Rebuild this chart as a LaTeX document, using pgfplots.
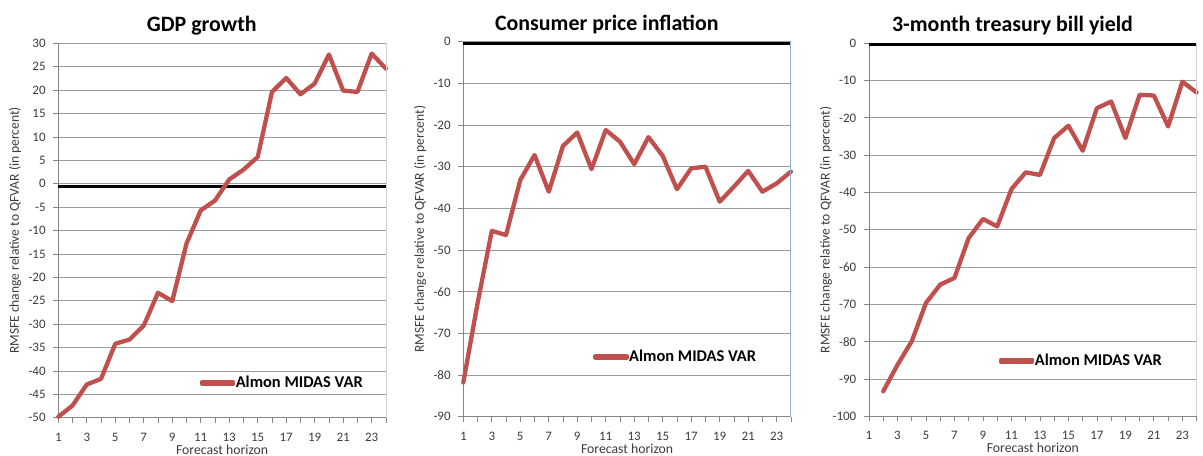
\documentclass[border=0pt]{standalone}
\usepackage{fontspec}
\setmainfont{Carlito}
\usepackage{pgfplots}
\pgfplotsset{compat=1.18}
\definecolor{redline}{RGB}{192,80,77}
\definecolor{gridc}{RGB}{155,155,155}
\definecolor{axc}{RGB}{134,134,134}
\definecolor{edgegray}{RGB}{210,210,210}
\definecolor{edgeblue}{RGB}{149,179,215}
\definecolor{tickc}{RGB}{60,60,60}

\pgfplotsset{
  panel/.style={
    scale only axis, width=327.6bp,
    anchor=south west,
    xmin=1, xmax=24,
    xtick={1,3,...,23}, minor xtick={2,4,...,24},
    axis x line*=bottom, axis y line*=left,
    axis line style={axc, line width=0.8bp},
    tick align=outside,
    major tick length=5bp, minor tick length=5bp,
    every tick/.style={axc, line width=0.8bp},
    ymajorgrids, grid style={gridc, line width=0.8bp},
    tick label style={font=\fontsize{13}{15}\selectfont, color=tickc, inner sep=0pt},
    xticklabel style={anchor=base, yshift=-18.3bp},
    yticklabel style={anchor=east, xshift=-7.5bp},
    /pgf/number format/assume math mode=true,
    clip=false,
    xlabel={Forecast horizon},
    ylabel={RMSFE change relative to QFVAR (in percent)},
    every axis x label/.style={at={(axis description cs:0.5,0)}, anchor=base, yshift=-36.3bp, font=\fontsize{13.8}{16}\selectfont, color=tickc, inner sep=0pt},
    every axis y label/.style={at={(axis description cs:-0.1321,0.5)}, anchor=center, rotate=90, font=\fontsize{13.6}{16}\selectfont, color=tickc, inner sep=0pt},
    every axis title/.style={font=\fontsize{22}{26}\selectfont\bfseries, anchor=base, at={(axis description cs:0.438,1.031)}, inner sep=0pt},
    legend style={draw=none, fill=none, anchor=west, font=\fontsize{16.5}{19}\selectfont\bfseries, inner sep=0pt, outer sep=0pt, nodes={inner sep=0.5bp}},
    legend image code/.code={\path (0bp,-1bp) rectangle (31bp,1bp); \draw[#1, line width=4.3bp, line cap=round] (2bp,0bp) -- (29bp,0bp);},
  },
  redstyle/.style={redline, line width=4.3bp, line join=round, line cap=round, mark=none},
  blackstyle/.style={black, line width=3.4bp, mark=none, forget plot},
}

\begin{document}
\begin{tikzpicture}
\useasboundingbox (0,0) rectangle (1203bp,456bp);

% Panel 1
\begin{axis}[panel, at={(58.3bp,38.3bp)}, height=374.4bp,
  ymin=-50, ymax=30, ytick={-50,-45,...,30},
  title={GDP growth},
  legend style={at={(axis description cs:0.4324,0.093)}}]
\addplot[blackstyle] coordinates {(1,-0.6) (24,-0.6)};
\addplot[redstyle] coordinates {
(1,-49.8) (2,-47.4) (3,-42.9) (4,-41.7) (5,-34.2) (6,-33.3) (7,-30.3) (8,-23.3)
(9,-25.1) (10,-12.8) (11,-5.7) (12,-3.6) (13,0.9) (14,3.0) (15,5.7) (16,19.6)
(17,22.6) (18,19.1) (19,21.4) (20,27.6) (21,19.9) (22,19.6) (23,27.8) (24,24.6)};
\addlegendentry{Almon MIDAS VAR}
\draw[edgegray, line width=0.8bp] (rel axis cs:1,0) -- (rel axis cs:1,1);
\end{axis}

% Panel 2
\begin{axis}[panel, at={(463.3bp,39.3bp)}, height=375bp,
  ymin=-90, ymax=0, ytick={-90,-80,...,0},
  title={Consumer price inflation},
  legend style={at={(axis description cs:0.397,0.16)}}]
\addplot[blackstyle] coordinates {(1,-0.5) (24,-0.5)};
\addplot[redstyle] coordinates {
(1,-81.8) (2,-62.8) (3,-45.4) (4,-46.4) (5,-33.2) (6,-27.2) (7,-36.0) (8,-25.0)
(9,-21.8) (10,-30.6) (11,-21.2) (12,-24.0) (13,-29.4) (14,-22.9) (15,-27.4) (16,-35.4)
(17,-30.4) (18,-30.0) (19,-38.4) (20,-34.8) (21,-31.0) (22,-36.0) (23,-34.0) (24,-31.2)};
\addlegendentry{Almon MIDAS VAR}
\draw[edgeblue, line width=0.9bp] (rel axis cs:1,0) -- (rel axis cs:1,1);
\end{axis}

% Panel 3
\begin{axis}[panel, at={(869bp,39.7bp)}, height=373bp,
  ymin=-100, ymax=0, ytick={-100,-90,...,0},
  title={3-month treasury bill yield},
  legend style={at={(axis description cs:0.397,0.149)}}]
\addplot[blackstyle] coordinates {(1,-0.3) (24,-0.3)};
\addplot[redstyle] coordinates {
(2,-93.3) (3,-86.2) (4,-79.9) (5,-69.6) (6,-64.7) (7,-62.9) (8,-52.2)
(9,-47.1) (10,-49.1) (11,-39.1) (12,-34.6) (13,-35.3) (14,-25.4) (15,-22.1) (16,-28.8)
(17,-17.4) (18,-15.6) (19,-25.4) (20,-13.8) (21,-14.0) (22,-22.3) (23,-10.3) (24,-13.2)};
\addlegendentry{Almon MIDAS VAR}
\draw[edgegray, line width=0.8bp] (rel axis cs:1,0) -- (rel axis cs:1,1);
\end{axis}
\end{tikzpicture}
\end{document}
